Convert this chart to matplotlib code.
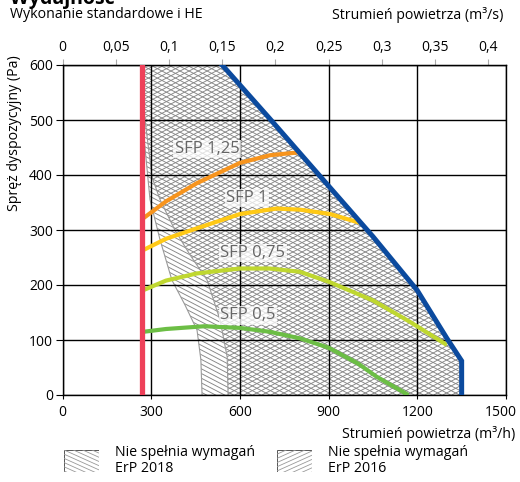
import numpy as np
import matplotlib.pyplot as plt
import matplotlib.transforms as mtransforms
from matplotlib.patches import Polygon, Rectangle
from matplotlib.collections import LineCollection

plt.rcParams['font.family'] = ['Open Sans', 'DejaVu Sans']
plt.rcParams['font.size'] = 10.2

# --- data (flow in m3/h, pressure in Pa) ---
red_q = 268

blue_q = [540, 700, 900, 1050, 1200, 1300, 1350, 1350]
blue_p = [600, 503, 380, 288, 190, 103, 62, 0]

sfp125_q = [275, 350, 454, 600, 702, 797]
sfp125_p = [322, 352, 385, 422, 436, 441]

sfp1_q = [275, 350, 454, 600, 724, 803, 905, 1006]
sfp1_p = [264, 284, 303, 329, 339, 337, 329, 313]

sfp075_q = [275, 350, 454, 600, 700, 803, 900, 1050, 1175, 1300]
sfp075_p = [191, 208, 221, 230, 230, 224, 206, 172, 133, 91]

sfp05_q = [275, 350, 480, 600, 700, 803, 900, 1000, 1063, 1170]
sfp05_p = [115, 120, 125, 122, 115, 103, 86, 57, 33, 0]

# ErP 2018 boundary (left gray curve)
erp18_q = [268, 270, 296, 330, 370, 414, 455, 468, 472]
erp18_p = [600, 500, 355, 282, 209, 164, 118, 64, 0]
# ErP 2016 boundary (right gray curve)
erp16_q = [268, 272, 303, 330, 380, 431, 489, 533, 557, 560]
erp16_p = [600, 531, 396, 355, 300, 255, 209, 136, 69, 0]

sfp_labels = ['SFP 1,25', 'SFP 1', 'SFP 0,75', 'SFP 0,5']
label_q = [489, 624, 644, 627]
label_p = [447, 358, 258, 145]

x_ticks = [0, 300, 600, 900, 1200, 1500]
y_ticks = [0, 100, 200, 300, 400, 500, 600]
top_ticks = [0, 0.05, 0.1, 0.15, 0.2, 0.25, 0.3, 0.35, 0.4]
top_labels = ['0', '0,05', '0,1', '0,15', '0,2', '0,25', '0,3', '0,35', '0,4']

W, H = 520, 482
fig = plt.figure(figsize=(W / 100, H / 100), dpi=100)
ax = fig.add_axes([62.5 / W, 1 - 395 / H, 443.5 / W, 330 / H])
ax.set_xlim(0, 1500)
ax.set_ylim(0, 600)


def hatch_lines(a, clip, direction, step=4.7, slope=0.52, color='#858585', lw=0.65, z=1):
    w, h = a.bbox.width, a.bbox.height
    segs = []
    for c in np.arange(-slope * w - step, h + slope * w + step, step):
        segs.append([(0, c / h), (1, (c + direction * slope * w) / h)])
    lc = LineCollection(segs, colors=color, linewidths=lw, transform=a.transAxes, zorder=z)
    a.add_collection(lc)
    lc.set_clip_path(clip)


# hatched regions
poly18 = Polygon(list(zip(erp18_q, erp18_p)) + list(zip(blue_q[::-1], blue_p[::-1])),
                 closed=True, fc='none', ec='none', transform=ax.transData)
poly16 = Polygon(list(zip(erp16_q, erp16_p)) + list(zip(blue_q[::-1], blue_p[::-1])),
                 closed=True, fc='none', ec='none', transform=ax.transData)
ax.add_patch(poly18)
ax.add_patch(poly16)
hatch_lines(ax, poly18, -1)
hatch_lines(ax, poly16, 1)
ax.plot(erp18_q, erp18_p, color='#9a9a9a', lw=0.8, zorder=1.2)
ax.plot(erp16_q, erp16_p, color='#9a9a9a', lw=0.8, zorder=1.2)

# grid
ax.set_xticks(x_ticks)
ax.set_yticks(y_ticks)
ax.set_xticklabels([str(v) for v in x_ticks])
ax.grid(True, color='black', lw=1.0)
ax.set_axisbelow(False)
for s in ax.spines.values():
    s.set_linewidth(1.0)
ax.tick_params(axis='both', labelsize=10)
ax.tick_params(axis='x', length=3, pad=4, width=0.8)
ax.tick_params(axis='y', length=5, pad=2, width=0.8)
# nudge the last bottom label so it stays inside the picture
last = ax.get_xticklabels()[-1]
last.set_transform(last.get_transform() + mtransforms.ScaledTranslation(-5 / 100, 0, fig.dpi_scale_trans))

# curves
ax.plot(sfp125_q, sfp125_p, color='#F7941D', lw=3, zorder=4, solid_capstyle='butt')
ax.plot(sfp1_q, sfp1_p, color='#FFC916', lw=3, zorder=4, solid_capstyle='butt')
ax.plot(sfp075_q, sfp075_p, color='#BFD730', lw=3, zorder=4, solid_capstyle='butt')
ax.plot(sfp05_q, sfp05_p, color='#6CBE45', lw=3, zorder=4, solid_capstyle='butt')
ax.plot(blue_q, blue_p, color='#0B4A9E', lw=3.6, zorder=5, solid_joinstyle='miter')
ax.plot([red_q, red_q], [0, 600], color='#EE4059', lw=3.8, zorder=5)

for t, q, p in zip(sfp_labels, label_q, label_p):
    ax.text(q, p, t, ha='center', va='center', color='#666666', fontsize=12, zorder=6,
            bbox=dict(fc='white', ec='none', alpha=0.75, pad=1))

# top axis in m3/s
sec = ax.secondary_xaxis('top', functions=(lambda q: q / 3600, lambda v: v * 3600))
sec.set_xticks(top_ticks)
sec.set_xticklabels(top_labels)
sec.tick_params(length=4, color='#aaaaaa', pad=3, labelsize=10)

# texts
fig.text(10 / W, 1 - 4 / H, 'Wydajność', fontweight='bold', fontsize=14, va='baseline')
fig.text(10 / W, 1 - 15 / H, 'Wykonanie standardowe i HE', va='center')
fig.text(503 / W, 1 - 15 / H, 'Strumień powietrza (m³/s)', va='center', ha='right')
fig.text(515 / W, 1 - 434 / H, 'Strumień powietrza (m³/h)', va='center', ha='right')
fig.text(15 / W, 1 - 133 / H, 'Spręż dyspozycyjny (Pa)', rotation=90, va='center', ha='center')

# legend
for x0, d, lab in [(64, -1, 'ErP 2018'), (277, 1, 'ErP 2016')]:
    lax = fig.add_axes([x0 / W, 1 - 472 / H, 35 / W, 22 / H])
    lax.set_xlim(0, 1)
    lax.set_ylim(0, 1)
    lax.axis('off')
    rect = Rectangle((0, 0), 1, 1, fc='none', ec='#555555', lw=0.7, transform=lax.transAxes)
    lax.add_patch(rect)
    hatch_lines(lax, rect, d, step=4.2, slope=0.45, color='#999999', lw=0.6)
    fig.text((x0 + 51) / W, 1 - 452 / H, 'Nie spełnia wymagań', va='center')
    fig.text((x0 + 51) / W, 1 - 468 / H, lab, va='center')

fig.savefig('out.png', dpi=100)
